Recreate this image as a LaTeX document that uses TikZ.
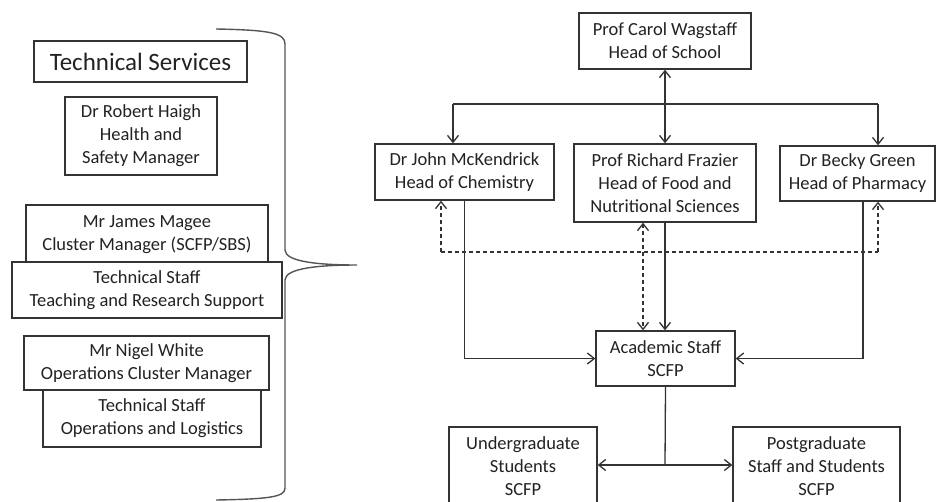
\documentclass[tikz,border=0pt]{standalone}
\usepackage{fontspec}
\setmainfont{Carlito}
\usetikzlibrary{arrows.meta}
\definecolor{linec}{HTML}{333333}
\definecolor{textc}{HTML}{222222}
\definecolor{bracec}{HTML}{555555}
\begin{document}
\begin{tikzpicture}[x=1pt,y=-1pt,
  box/.style={draw=linec, line width=1.3pt, fill=white, text=textc, align=center, inner sep=0pt, font=\fontsize{18.5}{23}\selectfont},
  conn/.style={draw=linec, line width=1.3pt},
  tipend/.style={-{Straight Barb[length=7pt,width=11pt]}},
  tipboth/.style={{Straight Barb[length=7pt,width=11pt]}-{Straight Barb[length=7pt,width=11pt]}},
  dashedline/.style={dash pattern=on 4pt off 3pt}]
\useasboundingbox (0,0) rectangle (936,501);
\clip (0,0) rectangle (936,501);

% ---- left panel ----
\node[box, minimum width=213pt, minimum height=41pt, font=\fontsize{25}{30}\selectfont] (ts) at (140.5,61.5) {Technical Services};
\node[box, minimum width=152pt, minimum height=78pt] (rh) at (141,136) {Dr Robert Haigh\\Health and\\Safety Manager};
\node[box, minimum width=242pt, minimum height=59pt] (jm) at (147,234.5) {Mr James Magee\\Cluster Manager (SCFP/SBS)};
\node[box, minimum width=270pt, minimum height=56pt] (tsr) at (147,290) {Technical Staff\\Teaching and Research Support};
\node[box, minimum width=218pt, minimum height=57pt] (tso) at (152,418.5) {Technical Staff\\Operations and Logistics};
\node[box, minimum width=245pt, minimum height=54pt] (nw) at (146.5,363) {Mr Nigel White\\Operations Cluster Manager};

% brace
\draw[draw=bracec, line width=1.4pt]
  (216,29) .. controls (270,30) and (285,33) .. (285,44)
  -- (285,250) .. controls (285,262) and (320,265) .. (357,265)
  .. controls (320,265) and (285,268) .. (285,280)
  -- (285,488) .. controls (285,497) and (270,499) .. (216,500);

% ---- right panel ----
\node[box, minimum width=172pt, minimum height=56pt] (carol) at (665,41) {Prof Carol Wagstaff\\Head of School};
\node[box, minimum width=179pt, minimum height=56pt] (john) at (464.5,172) {Dr John McKendrick\\Head of Chemistry};
\node[box, minimum width=182pt, minimum height=78pt] (rich) at (665,183) {Prof Richard Frazier\\Head of Food and\\Nutritional Sciences};
\node[box, minimum width=155pt, minimum height=55pt] (becky) at (857.5,173.5) {Dr Becky Green\\Head of Pharmacy};
\node[box, minimum width=139pt, minimum height=55pt] (acad) at (665.5,358.5) {Academic Staff\\SCFP};
\node[box, minimum width=148pt, minimum height=79pt] (ug) at (523,466.5) {Undergraduate\\Students\\SCFP};
\node[box, minimum width=167pt, minimum height=79pt] (pg) at (816.5,466.5) {Postgraduate\\Staff and Students\\SCFP};

% top connectors
\draw[conn, tipboth] (carol.south) -- (carol.south |- rich.north);
\coordinate (busL) at (453,104);
\coordinate (busR) at (878,104);
\draw[conn] (busL) -- (busR);
\draw[conn, tipend] (busL) -- (busL |- john.north);
\draw[conn, tipend] (busR) -- (busR |- becky.north);

% dashed connectors
\coordinate (dL) at (441,252);
\coordinate (dR) at (878,252);
\coordinate (dM) at (643,252);
\draw[conn, dashedline] (dL) -- (dR);
\draw[conn, dashedline, tipend] (dL) -- (dL |- john.south);
\draw[conn, dashedline, tipend] (dR) -- (dR |- becky.south);
\draw[conn, dashedline, tipboth] (dM |- rich.south) -- (dM |- acad.north);

% solid connectors into academic staff
\draw[conn, tipend] (john.south) |- (acad.west);
\coordinate (bk) at (863,201);
\draw[conn, tipend] (bk) |- (acad.east);
\draw[conn, tipend] (rich.south) -- (rich.south |- acad.north);

% academic staff to students
\coordinate (split) at (665,465);
\draw[conn] (acad.south) -- (split);
\draw[conn, tipend] (split) -- (split -| ug.east);
\draw[conn, tipend] (split) -- (split -| pg.west);
\end{tikzpicture}
\end{document}
